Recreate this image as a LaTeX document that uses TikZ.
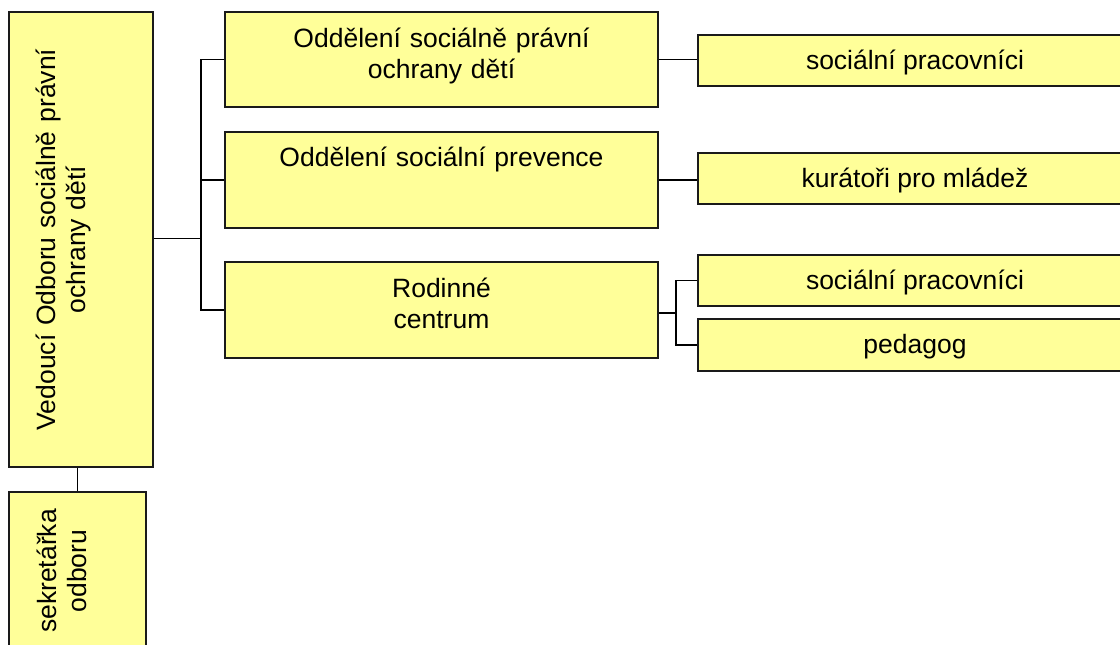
\documentclass[tikz,border=0pt]{standalone}
\usepackage{fontspec}
\setmainfont{Liberation Sans}
\usetikzlibrary{calc}
\definecolor{boxfill}{HTML}{FFFF99}
\definecolor{edge}{HTML}{1A1A1A}
\tikzset{
  box/.style={draw=edge, line width=2pt, fill=boxfill, inner sep=0pt, rectangle},
  conn/.style={draw=black, line width=1.6pt},
  lbl/.style={font=\fontsize{26.5}{31}\selectfont, align=center, inner sep=0pt, anchor=base},
}
\begin{document}
\begin{tikzpicture}[x=1pt,y=-1pt]
\useasboundingbox (0,0) rectangle (1120,645);
\clip (0,0) rectangle (1120,645);
% connectors (drawn first, boxes cover their ends)
\coordinate (J) at (201,238.5);
\coordinate (K) at (676,313);
% boxes
\node[box, minimum width=144pt, minimum height=455pt] (V) at (81,239.5) {};
\node[box, minimum width=137pt, minimum height=163pt] (S) at (77.5,573.5) {};
\node[box, minimum width=433pt, minimum height=95pt] (O1) at (441.5,59.5) {};
\node[box, minimum width=433pt, minimum height=96pt] (O2) at (441.5,180) {};
\node[box, minimum width=433pt, minimum height=96pt] (O3) at (441.5,310) {};
\node[box, minimum width=434pt, minimum height=51pt] (R1) at (915,60.5) {};
\node[box, minimum width=434pt, minimum height=51pt] (R2) at (915,178.5) {};
\node[box, minimum width=434pt, minimum height=51pt] (R3) at (915,280.5) {};
\node[box, minimum width=434pt, minimum height=52pt] (R4) at (915,345) {};
\draw[conn] (V.east |- J) -- (J);
\draw[conn] (J) |- (O1.west);
\draw[conn] (J) |- (O2.west);
\draw[conn] (J) |- (O3.west);
\draw[conn] (O1.east) -- (O1.east -| R1.west);
\draw[conn] (O2.east) -- (O2.east -| R2.west);
\draw[conn] (O3.east |- K) -- (K);
\draw[conn] (K) |- (R3.west);
\draw[conn] (K) |- (R4.west);
\draw[conn] (S.north |- V.south) -- (S.north);
% labels
\node[lbl, text width=430pt] (O1t) at (441.5,47) {Oddělení sociálně právní\\ochrany dětí};
\node[lbl, text width=430pt] (O2t) at (441.5,166) {Oddělení sociální prevence};
\node[lbl, text width=430pt] (O3t) at (441.5,297) {Rodinné\\centrum};
\node[lbl] (R1t) at (915,69) {sociální pracovníci};
\node[lbl] (R2t) at (915,187) {kurátoři pro mládež};
\node[lbl] (R3t) at (915,289) {sociální pracovníci};
\node[lbl] (R4t) at (915,353.5) {pedagog};
\node[lbl, text width=440pt, rotate=90] (Vt) at (55,239.5) {Vedoucí Odboru sociálně právní\\ochrany dětí};
\node[lbl, text width=160pt, rotate=90] (St) at (56,571) {sekretářka\\odboru};
\end{tikzpicture}
\end{document}
